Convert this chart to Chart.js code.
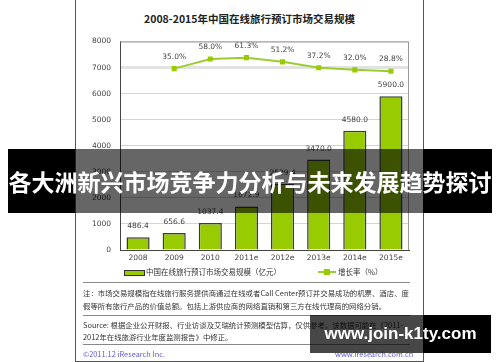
<!DOCTYPE html>
<html>
<head>
<meta charset="utf-8">
<script src="https://cdn.jsdelivr.net/npm/chart.js@4"></script>
<style>
	body { margin: 0; width: 500px; height: 362px; background: #fff; position: relative; overflow: hidden;
		font-family: "Noto Sans CJK SC", "DejaVu Sans", sans-serif; }
	.abs { position: absolute; white-space: nowrap; }
	#frame { left: 75px; top: -2px; width: 347px; height: 362px; border: 1px solid #555; }
	#title { left: 75px; width: 349px; top: 11px; text-align: center; font-size: 10.5px; font-weight: bold; color: #222; }
	#wrap { left: 75px; top: 28px; width: 348px; height: 240px; }
	.small { font-size: 7.4px; color: #333; line-height: 9px; }
	.rule { left: 83px; width: 327px; height: 0; border-top: 1px solid #888; }
	.blue { color: #5b5bd6; }
	#banner { left: 8px; top: 149px; width: 484px; height: 64px;
		background: linear-gradient(to right, #000 67px, rgba(0,0,0,0.6) 67px, rgba(0,0,0,0.6) 415px, #000 415px);
		color: #fff; font-size: 23px; font-weight: bold; text-align: center; line-height: 64px; }
	#mark { left: 310px; top: 315px; width: 181px; height: 38px;
		background: linear-gradient(to right, rgba(0,0,0,0.72) 113px, #000 113px);
		color: #fff; font-family: "Liberation Sans", sans-serif; font-size: 17px; font-weight: bold;
		text-align: center; line-height: 38px; }
</style>
</head>
<body>
<div id="frame" class="abs"></div>
<div id="title" class="abs">2008-2015年中国在线旅行预订市场交易规模</div>
<div id="wrap" class="abs"><canvas id="chart" width="348" height="240"></canvas></div>

<!-- legend -->
<div class="abs" style="left:124px;top:270px;width:19px;height:4px;background:#99cc00;border:1px solid #333;"></div>
<div class="abs small" style="left:146px;top:267px;font-size:7.5px;">中国在线旅行预订市场交易规模（亿元）</div>
<div class="abs" style="left:318px;top:271px;width:18px;height:2px;background:#9acd32;"></div>
<div class="abs" style="left:324px;top:269px;width:6px;height:6px;background:#99cc00;"></div>
<div class="abs small" style="left:338px;top:267px;font-size:7.5px;">增长率（%）</div>

<div class="abs rule" style="top:282px;"></div>
<div class="abs small" style="left:83px;top:288px;">注：市场交易规模指在线旅行服务提供商通过在线或者Call Center预订并交易成功的机票、酒店、度</div>
<div class="abs small" style="left:83px;top:301px;">假等所有旅行产品的价值总额。包括上游供应商的网络直销和第三方在线代理商的网络分销。</div>
<div class="abs rule" style="top:315px;"></div>
<div class="abs small" style="left:83px;top:320px;">Source: 根据企业公开财报、行业访谈及艾瑞统计预测模型估算，仅供参考。该数据可能在《2011-</div>
<div class="abs small" style="left:83px;top:332px;">2012年在线旅游行业年度监测报告》中修正。</div>
<div class="abs rule" style="top:344px;"></div>
<div class="abs small blue" style="left:83px;top:349px;">©2011.12 iResearch Inc.</div>
<div class="abs small blue" style="left:335px;width:78px;text-align:right;top:349px;">www.iresearch.com.cn</div>

<div id="banner" class="abs">各大洲新兴市场竞争力分析与未来发展趋势探讨</div>
<div id="mark" class="abs">www.join-k1ty.com</div>

<script>
const years = ['2008', '2009', '2010', '2011e', '2012e', '2013e', '2014e', '2015e'];
const marketSize = [486.4, 656.6, 1037.4, 1672.9, 2529.4, 3470.0, 4580.0, 5900.0];
const growthRate = [null, 35.0, 58.0, 61.3, 51.2, 37.2, 32.0, 28.8];
const yTicks = [0, 1000, 2000, 3000, 4000, 5000, 6000, 7000, 8000];

const numFont = { family: 'DejaVu Sans', size: 7.5 };

// value labels above bars and points
const valueLabels = {
	id: 'valueLabels',
	afterDatasetsDraw: function(chart) {
		let ctx = chart.ctx;
		ctx.save();
		ctx.font = '7.5px "DejaVu Sans"';
		ctx.fillStyle = '#444';
		ctx.textAlign = 'center';
		ctx.textBaseline = 'middle';
		chart.getDatasetMeta(1).data.forEach((bar, i) => {
			ctx.fillText(marketSize[i].toFixed(1), bar.x, bar.y - 11);
		});
		chart.getDatasetMeta(0).data.forEach((pt, i) => {
			if(growthRate[i] == null) return;
			ctx.fillText(growthRate[i].toFixed(1) + '%', pt.x, pt.y - 12);
		});
		ctx.restore();
	},
};

// grey box round the plot area
const plotBox = {
	id: 'plotBox',
	beforeDatasetsDraw: function(chart) {
		let a = chart.chartArea;
		let ctx = chart.ctx;
		ctx.save();
		ctx.strokeStyle = '#999';
		ctx.lineWidth = 1;
		ctx.beginPath();
		ctx.moveTo(a.left, a.top + 0.5);
		ctx.lineTo(a.right - 0.5, a.top + 0.5);
		ctx.lineTo(a.right - 0.5, a.bottom);
		ctx.stroke();
		ctx.restore();
	},
};

let config = {
	data: {
		labels: years,
		datasets: [{
			type: 'line',
			label: '增长率（%）',
			data: growthRate,
			yAxisID: 'y1',
			borderColor: '#9acd32',
			backgroundColor: '#99cc00',
			borderWidth: 2,
			pointStyle: 'rect',
			pointRadius: 3.6,
			pointBorderWidth: 0,
			tension: 0,
			order: 0,
		}, {
			type: 'bar',
			label: '中国在线旅行预订市场交易规模（亿元）',
			data: marketSize,
			yAxisID: 'y',
			backgroundColor: '#99cc00',
			borderColor: '#3a3a3a',
			borderWidth: 1.5,
			barPercentage: 0.64,
			categoryPercentage: 1,
			order: 1,
		}]
	},
	options: {
		responsive: false,
		animation: false,
		layout: { padding: { left: 0, right: 14, top: 11, bottom: 0 } },
		plugins: { legend: { display: false }, tooltip: { enabled: false } },
		scales: {
			x: {
				grid: { display: false, drawTicks: false },
				border: { color: '#444', width: 1 },
				ticks: { font: numFont, color: '#444', padding: 4 },
				afterFit: function(scale) { scale.height = 18; },
			},
			y: {
				min: 0,
				max: 8000,
				afterBuildTicks: function(scale) { scale.ticks = yTicks.map(v => ({ value: v })); },
				grid: {
					drawTicks: false,
					color: (c) => c.tick && c.tick.value == 7000 ? '#e2e2e2' : '#d4d4d4',
					lineWidth: (c) => c.tick && c.tick.value == 7000 ? 3 : 1,
				},
				border: { color: '#444', width: 1 },
				ticks: { font: numFont, color: '#444', padding: 9, callback: (v) => String(v) },
				afterFit: function(scale) { scale.width = 45; },
			},
			y1: {
				display: false,
				min: -400,
				max: 100,
			},
		},
	},
	plugins: [valueLabels, plotBox],
};

new Chart(document.getElementById('chart').getContext('2d'), config);
</script>
</body>
</html>
